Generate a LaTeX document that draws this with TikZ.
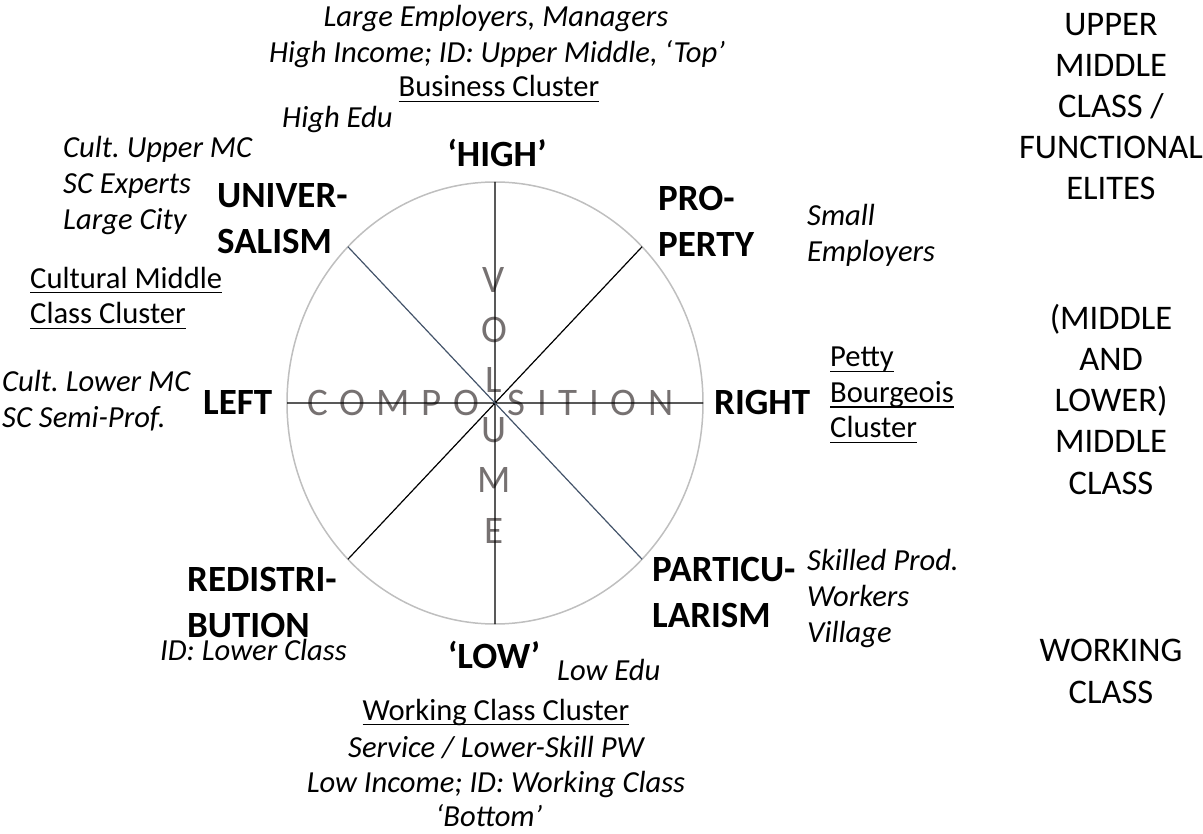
\documentclass[tikz,border=0pt]{standalone}
\usepackage{fontspec}
\setmainfont{Carlito}
\definecolor{rimgray}{HTML}{BFBFBF}
\definecolor{slate}{HTML}{44546A}
\definecolor{lettergray}{HTML}{767171}
\newsavebox{\clusterbox}
\newcommand{\clusterline}[1]{\sbox{\clusterbox}{#1}\rlap{\rule[-5pt]{\wd\clusterbox}{1.4pt}}\usebox{\clusterbox}}
\frenchspacing

\begin{document}
\begin{tikzpicture}[x=1pt,y=-1pt,
  pole node/.style={font=\bfseries\fontsize{37}{46}\selectfont,align=left,inner sep=0pt},
  note node/.style={font=\itshape\fontsize{30.6}{36}\selectfont,align=left,inner sep=0pt},
  cluster node/.style={font=\fontsize{30.6}{35.5}\selectfont,align=left,inner sep=0pt},
  class node/.style={font=\fontsize{34.5}{41.2}\selectfont,align=center,inner sep=0pt},
  axis label/.style={font=\fontsize{39}{50.2}\selectfont,text=lettergray,inner sep=0pt}]

  \useasboundingbox (0,0) rectangle (1203,834);

  % axis words
  \node[axis label,anchor=base west] (comp) at (307,416)
    {\addfontfeature{LetterSpace=30}COMPO\hspace{28pt}SITION};
  \node[axis label,align=center,anchor=base] (vol) at (494,543) {V\\O\\L\\U\\M\\E};

  % circle and axes
  \coordinate (c) at (495,403);
  \draw[rimgray,line width=1.5pt] (c) ellipse [x radius=208,y radius=221];
  \path (c) +(0:208 and 221) coordinate (e) +(180:208 and 221) coordinate (w)
    +(90:208 and 221) coordinate (s) +(270:208 and 221) coordinate (n)
    +(45:208 and 221) coordinate (se) +(225:208 and 221) coordinate (nw)
    +(135:208 and 221) coordinate (sw) +(315:208 and 221) coordinate (ne);
  \draw[line width=1.2pt] (w) -- (e) (n) -- (s) (sw) -- (ne);
  \draw[slate,line width=1.2pt] (nw) -- (se);

  % poles
  \node[pole node,anchor=base] (high) at (497,167) {‘HIGH’};
  \node[pole node,anchor=base] (low) at (494,668) {‘LOW’};
  \node[pole node,anchor=base west] (left) at (203,415) {LEFT};
  \node[pole node,anchor=base west] (right) at (714,415) {RIGHT};
  \node[pole node,anchor=base west] (univ) at (217,254) {UNIVER-\\SALISM};
  \node[pole node,anchor=base west] (prop) at (658,257) {PRO-\\PERTY};
  \node[pole node,anchor=base west] (redis) at (187,637) {REDISTRI-\\BUTION};
  \node[pole node,anchor=base west] (partic) at (652,627) {PARTICU-\\LARISM};

  % top
  \node[note node,anchor=base] (largeemp) at (496,27) {Large Employers, Managers};
  \node[note node,anchor=base] (highinc) at (497,63) {High Income; ID: Upper Middle, ‘Top’};
  \node[cluster node,anchor=base] (business) at (499,97) {\clusterline{Business Cluster}};
  \node[note node,anchor=base west] (highedu) at (282,128) {High Edu};

  % left
  \node[note node,anchor=base west] (cultupper) at (63,230) {Cult. Upper MC\\SC Experts\\Large City};
  \node[cluster node,anchor=base west] (cultural) at (30,324) {\clusterline{Cultural Middle}\\\clusterline{Class Cluster}};
  \node[note node,anchor=base west] (cultlower) at (2,428) {Cult. Lower MC\\SC Semi-Prof.};
  \node[note node,anchor=base west] (idlower) at (160,660) {ID: Lower Class};

  % right
  \node[note node,anchor=base west] (smallemp) at (807,262) {Small\\Employers};
  \node[cluster node,anchor=base west] (petty) at (830,438) {\clusterline{Petty}\\\clusterline{Bourgeois}\\\clusterline{Cluster}};
  \node[note node,anchor=base west] (skilled) at (807,642) {Skilled Prod.\\Workers\\Village};

  % bottom
  \node[note node,anchor=base west] (lowedu) at (557,680) {Low Edu};
  \node[cluster node,anchor=base] (working) at (496,720) {\clusterline{Working Class Cluster}};
  \node[note node,anchor=base] (service) at (496,757) {Service / Lower-Skill PW};
  \node[note node,anchor=base] (lowinc) at (496,792) {Low Income; ID: Working Class};
  \node[note node,anchor=base] (bottom) at (489,826) {‘Bottom’};

  % classes
  \node[class node,anchor=base] (upperclass) at (1111,200) {UPPER\\MIDDLE\\CLASS /\\FUNCTIONAL\\ELITES};
  \node[class node,anchor=base] (middleclass) at (1111,494) {(MIDDLE\\AND\\LOWER)\\MIDDLE\\CLASS};
  \node[class node,anchor=base] (workingclass) at (1111,703) {WORKING\\CLASS};
\end{tikzpicture}
\end{document}
